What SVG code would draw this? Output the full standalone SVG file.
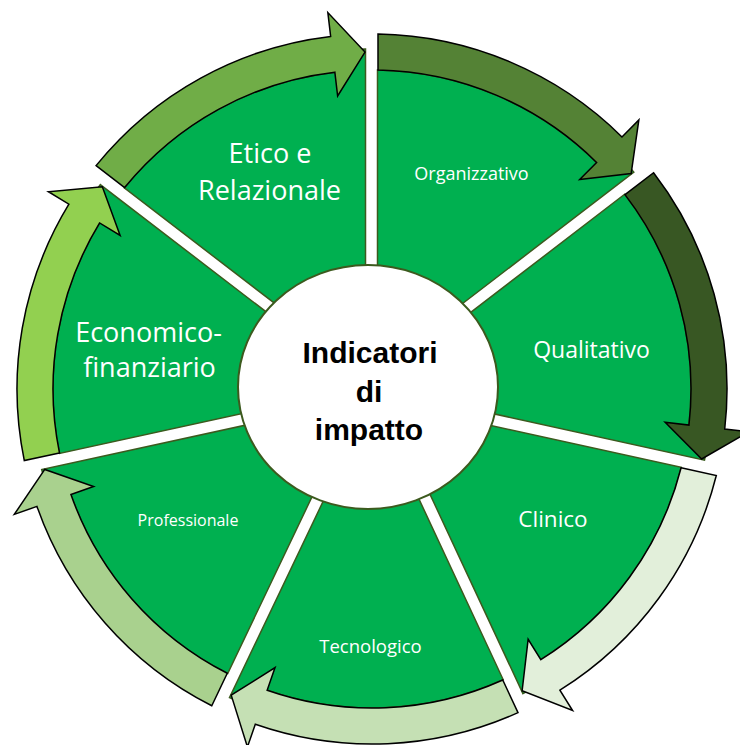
<svg xmlns="http://www.w3.org/2000/svg" width="740" height="745" viewBox="0 0 740 745">
<style>
.wedge{fill:#00B050;stroke:#3C5A1E;stroke-width:1.5;stroke-linejoin:miter}
.arrow{stroke:#000;stroke-width:1.5;stroke-linejoin:miter}
.lbl{font-family:"Open Sans","Noto Sans",sans-serif;fill:#fff;text-anchor:middle}
.ctr{font-family:"Liberation Sans",Arial,sans-serif;font-weight:bold;font-size:30px;fill:#000;text-anchor:middle}
</style>
<rect width="740" height="745" fill="#fff"/>
<g id="wedges">
<g id="organizzativo">
<path class="wedge" d="M377.5,329.25 L377.5,70.05 A319 319 0 0 1 601.23,167.17 L616.32,152.56 A340 340 0 0 1 633.86,172.11 L410.82,343.25 L372,389 Z"/>
<text class="lbl" x="471.5" y="180" font-size="18">Organizzativo</text>
</g>
<g id="qualitativo">
<path class="wedge" d="M419.2,351.95 L624.69,194.27 A319 319 0 0 1 688.13,431.69 L708.94,434.5 A340 340 0 0 1 704.49,460.13 L431.01,400.01 L372,389 Z"/>
<text class="lbl" x="591.5" y="358" font-size="23">Qualitativo</text>
</g>
<g id="clinico">
<path class="wedge" d="M427.6,411.55 L681.24,467.3 A319 319 0 0 1 535.21,663.08 L545.96,681.13 A340 340 0 0 1 522.94,693.64 L404.43,439.48 L372,389 Z"/>
<text class="lbl" x="553" y="527" font-size="22.5">Clinico</text>
</g>
<g id="tecnologico">
<path class="wedge" d="M393.76,444.99 L503.23,679.77 A319 319 0 0 1 260.86,688.01 L253.54,707.7 A340 340 0 0 1 229.48,697.69 L350.05,444.89 L372,389 Z"/>
<text class="lbl" x="370.5" y="653" font-size="18.5">Tecnologico</text>
</g>
<g id="professionale">
<path class="wedge" d="M339.39,439.36 L227.71,673.5 A319 319 0 0 1 68.81,488.16 L48.85,494.69 A340 340 0 0 1 41.71,469.6 L315.75,409.85 L372,389 Z"/>
<text class="lbl" x="188" y="526" font-size="16">Professionale</text>
</g>
<g id="economico">
<path class="wedge" d="M312.72,398.23 L59.58,453.41 A319 319 0 0 1 103.14,217.31 L85.44,206.01 A340 340 0 0 1 100.27,184.61 L322.45,355.09 L372,389 Z"/>
<text class="lbl" x="148.5" y="342" font-size="27">Economico-</text>
<text class="lbl" x="149.5" y="377" font-size="27">finanziario</text>
</g>
<g id="etico">
<path class="wedge" d="M330.21,345.93 L124.31,187.94 A319 319 0 0 1 341.48,71.46 L339.47,50.56 A340 340 0 0 1 365.5,49.06 L365.5,329.35 L372,389 Z"/>
<text class="lbl" x="270" y="163" font-size="27">Etico e</text>
<text class="lbl" x="269.5" y="200" font-size="27">Relazionale</text>
</g>
</g>
<g id="connectors">
<path class="arrow" fill="#548235" d="M378,70.06 L378,34.05 A355 355 0 0 1 621.96,136.91 L638.85,119.87 L631.16,173.55 L579.71,179.52 L596.61,162.48 A319 319 0 0 0 378,70.06 Z"/>
<path class="arrow" fill="#385723" d="M624.99,194.66 L653.56,172.75 A355 355 0 0 1 724.72,429.12 L748.57,431.83 L701.67,459 L665.11,422.34 L688.96,425.05 A319 319 0 0 0 624.99,194.66 Z"/>
<path class="arrow" fill="#E2EFDA" d="M681.12,467.79 L716.3,475.52 A355 355 0 0 1 559.9,690.2 L572.6,710.56 L522.13,690.7 L528.14,639.29 L540.84,659.66 A319 319 0 0 0 681.12,467.79 Z"/>
<path class="arrow" fill="#C5E0B4" d="M502.78,679.98 L518,712.62 A355 355 0 0 1 255.32,724.28 L247.43,746.94 L231.22,695.19 L275.04,667.61 L267.15,690.28 A319 319 0 0 0 502.78,679.98 Z"/>
<path class="arrow" fill="#A9D18E" d="M227.27,673.28 L211.77,705.78 A355 355 0 0 1 36.97,506.4 L14.31,514.34 L44.76,469.45 L93.59,486.56 L70.94,494.5 A319 319 0 0 0 227.27,673.28 Z"/>
<path class="arrow" fill="#92D050" d="M59.47,452.92 L24.3,460.59 A355 355 0 0 1 68.9,204.22 L48.41,191.73 L102.34,186.84 L120.13,235.45 L99.63,222.96 A319 319 0 0 0 59.47,452.92 Z"/>
<path class="arrow" fill="#70AD47" d="M124.63,187.55 L96.06,165.63 A355 355 0 0 1 330.65,36.42 L327.85,12.58 L365,52.07 L337.64,96.01 L334.84,72.17 A319 319 0 0 0 124.63,187.55 Z"/>
</g>
<g id="centro">
<ellipse cx="368" cy="387" rx="130" ry="122" fill="#fff" stroke="#3C5A1E" stroke-width="2"/>
<text class="ctr" x="370" y="363">Indicatori</text>
<text class="ctr" x="369" y="402">di</text>
<text class="ctr" x="369" y="440">impatto</text>
</g>
</svg>
